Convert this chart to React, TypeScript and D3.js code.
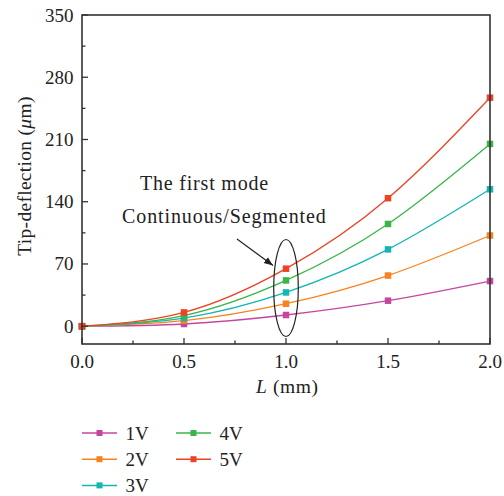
import React from "react";
import * as d3 from "d3";

const lengths = [0, 0.5, 1.0, 1.5, 2.0];
const seriesNames = ["1V", "2V", "3V", "4V", "5V"];
const v1 = [0, 2.5, 12.6, 28.7, 50.8];
const v2 = [0, 6.2, 25.3, 57, 102];
const v3 = [0, 9.2, 38, 86.4, 154];
const v4 = [0, 12, 51.5, 115, 205];
const v5 = [0, 15.5, 64.7, 144, 257];
const seriesValues = [v1, v2, v3, v4, v5];
const colors = ["#c4479e", "#f7821e", "#14b6b2", "#3bb54a", "#ef4123"];
const xTicks = [0, 0.5, 1.0, 1.5, 2.0];
const xMinor = [0.25, 0.75, 1.25, 1.75];
const yTicks = [0, 70, 140, 210, 280, 350];
const yMinor = [35, 105, 175, 245, 315];

const W = 504, H = 496;
const L = 82, R = 490, T = 15, B = 344;
const FONT = "'Liberation Serif', 'Times New Roman', serif";

export default function App() {
  const x = d3.scaleLinear().domain([0, 2]).range([L, R]);
  const y = d3.scaleLinear().domain([-20, 350]).range([B, T]);
  const line = d3
    .line<number>()
    .x((_, i) => x(lengths[i]))
    .y((d) => y(d))
    .curve(d3.curveNatural);
  const axisColor = "#333";
  const ms = 6.5;

  const cx = x(1.0);
  const legendItems = seriesNames.map((n, i) => {
    const col = i < 3 ? 0 : 1;
    const row = i < 3 ? i : i - 3;
    return { n, i, x0: col === 0 ? 82 : 176, y0: 433 + row * 26.2 };
  });

  return (
    <svg width={W} height={H} style={{ position: "absolute", left: 0, top: 0 }} fontFamily={FONT}>
      <defs>
        <marker id="arr" viewBox="0 0 10 10" refX="10" refY="5" markerWidth="9" markerHeight="9" orient="auto" markerUnits="userSpaceOnUse">
          <path d="M0,1 L10,5 L0,9 z" fill="#222" />
        </marker>
      </defs>
      {seriesValues.map((vals, i) => (
        <path key={i} d={line(vals) || ""} fill="none" stroke={colors[i]} strokeWidth={1.3} />
      ))}
      {seriesValues.map((vals, i) =>
        vals.map((v, j) => (
          <rect key={i + "-" + j} x={x(lengths[j]) - ms / 2} y={y(v) - ms / 2} width={ms} height={ms} fill={colors[i]} />
        ))
      )}
      <rect x={L} y={T} width={R - L} height={B - T} fill="none" stroke={axisColor} strokeWidth={1.6} />
      {xTicks.map((t) => (
        <g key={"xt" + t}>
          <line x1={x(t)} x2={x(t)} y1={B} y2={B - 6} stroke={axisColor} strokeWidth={1.3} />
          <text x={x(t)} y={368} textAnchor="middle" fontSize={19} fill="#222">
            {t.toFixed(1)}
          </text>
        </g>
      ))}
      {xMinor.map((t) => (
        <line key={"xm" + t} x1={x(t)} x2={x(t)} y1={B} y2={B - 3.5} stroke={axisColor} strokeWidth={1.3} />
      ))}
      {yTicks.map((t) => (
        <g key={"yt" + t}>
          <line x1={L} x2={L + 6} y1={y(t)} y2={y(t)} stroke={axisColor} strokeWidth={1.3} />
          <text x={73.5} y={y(t) + 6.5} textAnchor="end" fontSize={19} fill="#222">
            {t}
          </text>
        </g>
      ))}
      {yMinor.map((t) => (
        <line key={"ym" + t} x1={L} x2={L + 3.5} y1={y(t)} y2={y(t)} stroke={axisColor} strokeWidth={1.3} />
      ))}
      <text x={256} y={393} fontSize={19.5} letterSpacing={0.6} fill="#222">
        <tspan fontStyle="italic">L</tspan> (mm)
      </text>
      <text transform={`translate(31,176) rotate(-90)`} textAnchor="middle" fontSize={19.5} letterSpacing={0.3} fill="#222">
        Tip-deflection (<tspan fontStyle="italic">μ</tspan>m)
      </text>
      <text x={140} y={190} fontSize={20} letterSpacing={0.8} fill="#222">
        The first mode
      </text>
      <text x={122} y={223} fontSize={20} letterSpacing={0.9} fill="#222">
        Continuous/Segmented
      </text>
      <ellipse cx={cx} cy={288} rx={12.3} ry={48.5} fill="none" stroke="#222" strokeWidth={1.2} />
      <line x1={237} y1={239} x2={273} y2={265.5} stroke="#222" strokeWidth={1.2} markerEnd="url(#arr)" />
      {legendItems.map((it) => (
        <g key={"lg" + it.n}>
          <line x1={it.x0} x2={it.x0 + 35} y1={it.y0} y2={it.y0} stroke={colors[it.i]} strokeWidth={1.5} />
          <rect x={it.x0 + 17.5 - 3} y={it.y0 - 3} width={6} height={6} fill={colors[it.i]} />
          <text x={it.x0 + 43.5} y={it.y0 + 6.5} fontSize={19} fill="#222">
            {it.n}
          </text>
        </g>
      ))}
    </svg>
  );
}
